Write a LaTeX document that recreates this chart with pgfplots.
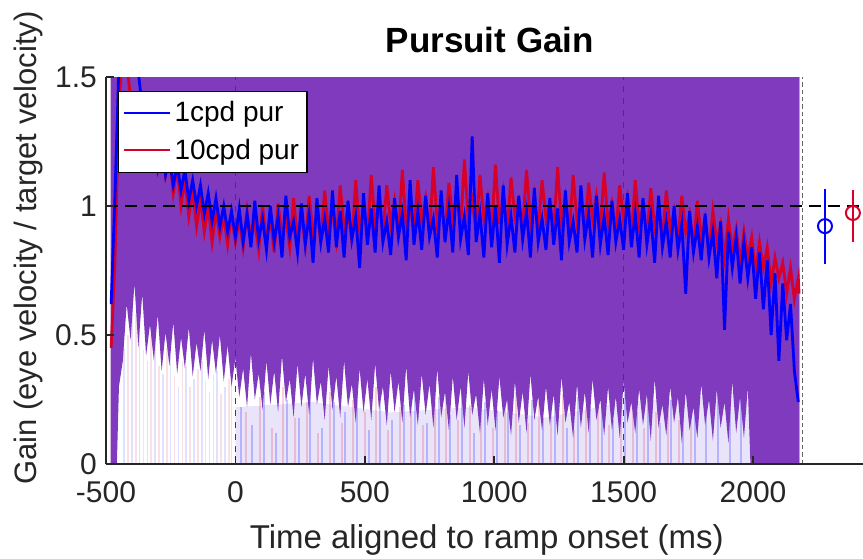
\documentclass[border=0pt]{standalone}
\usepackage{fontspec}
\setmainfont{Liberation Sans}
\usepackage{pgfplots}
\pgfplotsset{compat=1.18}
\definecolor{mpurple}{RGB}{128,58,190}
\definecolor{mblue}{RGB}{0,0,255}
\definecolor{mred}{RGB}{215,0,40}
\definecolor{axgray}{RGB}{38,38,38}
\begin{document}
\begin{tikzpicture}
\begin{axis}[
  at={(0,0)}, anchor=south west,
  scale only axis, width=378.5pt, height=193.5pt,
  xmin=-500, xmax=2425, ymin=0, ymax=1.5,
  axis lines=left,
  axis line style={-, line width=0.9pt, color=axgray},
  tick align=inside, major tick length=4pt,
  tick style={line width=0.9pt, color=axgray},
  xtick={-500,0,500,1000,1500,2000},
  xticklabels={-500,0,500,1000,1500,2000},
  ytick={0,0.5,1,1.5},
  yticklabels={0,0.5,1,1.5},
  ticklabel style={font=\fontsize{15}{18}\selectfont, text=axgray},
  xticklabel style={yshift=-5pt},
  yticklabel style={xshift=-1pt},
  axis on top,
  title={Pursuit Gain},
  title style={font=\fontsize{17.5}{20}\selectfont\bfseries, at={(axis description cs:0.507,1)}, anchor=base, yshift=6pt},
  xlabel={Time aligned to ramp onset (ms)},
  xlabel style={font=\fontsize{16.5}{19}\selectfont, text=axgray, at={(axis description cs:0.503,0)}, anchor=base, yshift=-42pt},
  ylabel={Gain (eye velocity / target velocity)},
  ylabel style={font=\fontsize{15.5}{18}\selectfont, text=axgray, at={(axis description cs:-0.103,0.558)}, anchor=center},
  legend style={at={(axis description cs:0.0158,0.964)}, anchor=north west, draw=black, line width=0.6pt, fill=white, font=\fontsize{14}{17}\selectfont, inner xsep=2pt, inner ysep=3pt, row sep=3pt},
  legend cell align=left,
  legend image code/.code={\draw[#1] (0pt,0pt) -- (23pt,0pt);},
]
\addlegendimage{mblue, line width=1pt}
\addlegendentry{1cpd pur}
\addlegendimage{mred, line width=1pt}
\addlegendentry{10cpd pur}

% faint haze and streaks near the bottom
\addplot[forget plot, draw=none, fill=mpurple!60!blue, fill opacity=0.12] coordinates {
(0,0) (0,0.22) (300,0.24) (600,0.20) (900,0.22) (1200,0.18) (1500,0.24) (1800,0.26) (1990,0.30) (1990,0)};
\addplot[forget plot, ycomb, mblue, line width=1pt, opacity=0.22] coordinates {
(20,0.22)(65,0.15)(110,0.28)(155,0.12)(200,0.25)(245,0.18)(290,0.30)(335,0.14)(380,0.24)(425,0.20)
(470,0.27)(515,0.13)(560,0.29)(605,0.17)(650,0.23)(695,0.31)(740,0.16)(785,0.26)(830,0.19)(875,0.28)
(920,0.12)(965,0.24)(1010,0.21)(1055,0.30)(1100,0.15)(1145,0.25)(1190,0.18)(1235,0.29)(1280,0.14)(1325,0.26)
(1370,0.22)(1415,0.30)(1460,0.17)(1505,0.27)(1550,0.20)(1595,0.31)(1640,0.16)(1685,0.25)(1730,0.22)(1775,0.30)
(1820,0.19)(1865,0.27)(1910,0.23)(1955,0.29)};
\addplot[forget plot, ycomb, mred, line width=1pt, opacity=0.18] coordinates {
(40,0.20)(95,0.26)(140,0.14)(185,0.30)(230,0.18)(275,0.24)(320,0.12)(365,0.28)(410,0.16)(455,0.25)
(500,0.20)(545,0.30)(590,0.13)(635,0.22)(680,0.27)(725,0.15)(770,0.24)(815,0.29)(860,0.17)(905,0.23)
(950,0.26)(995,0.14)(1040,0.22)(1085,0.28)(1130,0.16)(1175,0.24)(1220,0.20)(1265,0.27)(1310,0.13)(1355,0.22)
(1400,0.25)(1445,0.15)(1490,0.21)(1535,0.26)(1580,0.14)(1625,0.20)(1670,0.24)(1715,0.17)(1760,0.22)};
\addplot[forget plot, ycomb, mblue, line width=0.8pt, opacity=0.12] coordinates {
(-430,0.45)(-400,0.60)(-370,0.52)(-340,0.40)(-310,0.48)(-280,0.35)(-250,0.42)(-220,0.30)(-190,0.38)
(-160,0.33)(-130,0.40)(-100,0.28)(-70,0.36)(-40,0.30)(-15,0.34)};
\addplot[forget plot, ycomb, mred, line width=0.8pt, opacity=0.12] coordinates {
(-415,0.50)(-385,0.58)(-355,0.44)(-325,0.50)(-295,0.38)(-265,0.45)(-235,0.34)(-205,0.40)(-175,0.30)
(-145,0.37)(-115,0.32)(-85,0.35)(-55,0.27)(-25,0.33)};

% solid purple band
\addplot[forget plot, draw=none, fill=mpurple] coordinates {
(-482,0) (-482,1.5) (2178,1.5) (2178,0) (1990,0)
(1980,0.30) (1965,0.10) (1950,0.26) (1935,0.12) (1920,0.32) (1905,0.08) (1890,0.24) (1875,0.14)
(1860,0.29) (1845,0.09) (1830,0.25) (1815,0.15) (1800,0.31) (1785,0.10) (1770,0.22) (1755,0.13)
(1740,0.28) (1725,0.08) (1710,0.26) (1695,0.16) (1680,0.30) (1665,0.11) (1650,0.23) (1635,0.14)
(1620,0.33) (1605,0.09) (1590,0.27) (1575,0.15) (1560,0.29) (1545,0.12) (1530,0.24) (1515,0.16)
(1500,0.32) (1485,0.10) (1470,0.26) (1455,0.13) (1440,0.30) (1425,0.11) (1410,0.25) (1395,0.17)
(1380,0.33) (1365,0.12) (1350,0.28) (1335,0.14) (1320,0.31) (1305,0.10) (1290,0.24) (1275,0.16)
(1260,0.34) (1245,0.11) (1230,0.27) (1215,0.15) (1200,0.30) (1185,0.13) (1170,0.26) (1155,0.17)
(1140,0.35) (1125,0.12) (1110,0.28) (1095,0.16) (1080,0.32) (1065,0.11) (1050,0.25) (1035,0.18)
(1020,0.34) (1005,0.13) (990,0.29) (975,0.15) (960,0.33) (945,0.12) (930,0.27) (915,0.19)
(900,0.36) (885,0.14) (870,0.30) (855,0.17) (840,0.34) (825,0.13) (810,0.28) (795,0.18)
(780,0.37) (765,0.14) (750,0.31) (735,0.19) (720,0.35) (705,0.15) (690,0.29) (675,0.18)
(660,0.38) (645,0.16) (630,0.32) (615,0.20) (600,0.36) (585,0.15) (570,0.30) (555,0.21)
(540,0.39) (525,0.17) (510,0.33) (495,0.20) (480,0.37) (465,0.16) (450,0.31) (435,0.22)
(420,0.40) (405,0.18) (390,0.34) (375,0.21) (360,0.38) (345,0.17) (330,0.32) (315,0.23)
(300,0.41) (285,0.19) (270,0.35) (255,0.22) (240,0.39) (225,0.18) (210,0.33) (195,0.24)
(180,0.42) (165,0.20) (150,0.36) (135,0.23) (120,0.40) (105,0.21) (90,0.35) (75,0.25)
(60,0.43) (45,0.22) (30,0.37) (15,0.26) (0,0.41) (-15,0.30) (-30,0.46) (-45,0.32)
(-60,0.50) (-75,0.35) (-90,0.48) (-105,0.33) (-120,0.52) (-135,0.36) (-150,0.47) (-165,0.34)
(-180,0.53) (-195,0.37) (-210,0.49) (-225,0.35) (-240,0.55) (-255,0.38) (-270,0.51) (-285,0.36)
(-300,0.58) (-315,0.40) (-330,0.54) (-345,0.42) (-360,0.66) (-375,0.45) (-390,0.70) (-405,0.48)
(-420,0.62) (-435,0.40) (-450,0.30) (-458,0.0)};

% reference lines
\addplot[forget plot, black!75, dashed, line width=0.5pt] coordinates {(0,0) (0,1.5)};
\addplot[forget plot, black!75, dashed, line width=0.5pt] coordinates {(1500,0) (1500,1.5)};
\addplot[forget plot, red!45, line width=0.6pt] coordinates {(2180,0) (2180,1.5)};
\addplot[forget plot, black!60, line width=0.6pt, dash pattern=on 2.2pt off 1.5pt] coordinates {(2192,0) (2192,1.5)};

% red series
\addplot[forget plot, mred, line width=1.4pt] coordinates {
(-480,0.45) (-465,0.80) (-450,1.40) (-435,1.60) (-420,1.55) (-405,1.42) (-390,1.35) (-375,1.38)
(-360,1.30) (-345,1.34) (-330,1.22) (-315,1.30) (-300,1.18) (-285,1.25) (-270,1.12) (-255,1.20)
(-240,1.05) (-225,1.15) (-210,1.00) (-195,1.10) (-180,0.96) (-165,1.06) (-150,0.92) (-135,1.02)
(-120,0.90) (-105,1.00) (-90,0.86) (-75,0.98) (-60,0.88) (-45,0.96) (-30,0.85) (-15,0.97)
(0,0.86) (15,0.95) (30,0.84) (45,0.98) (60,0.87) (75,0.94) (90,0.83) (105,1.00)
(120,0.86) (135,0.96) (150,0.82) (165,1.01) (180,0.88) (195,0.95) (210,0.84) (225,1.03)
(240,0.87) (255,0.96) (270,0.85) (285,1.04) (300,0.89) (315,0.97) (330,0.86) (345,1.06)
(360,0.90) (375,0.98) (390,0.87) (405,1.08) (420,0.91) (435,0.99) (450,0.86) (465,1.10)
(480,0.90) (495,1.00) (510,0.88) (525,1.12) (540,0.92) (555,1.01) (570,0.89) (585,1.08)
(600,0.93) (615,1.02) (630,0.88) (645,1.14) (660,0.92) (675,1.00) (690,0.90) (705,1.10)
(720,0.94) (735,1.03) (750,0.89) (765,1.15) (780,0.93) (795,1.01) (810,0.90) (825,1.09)
(840,0.95) (855,1.04) (870,0.91) (885,1.18) (900,0.94) (915,1.02) (930,0.90) (945,1.12)
(960,0.95) (975,1.03) (990,0.91) (1005,1.16) (1020,0.93) (1035,1.05) (1050,0.90) (1065,1.11)
(1080,0.96) (1095,1.02) (1110,0.92) (1125,1.14) (1140,0.94) (1155,1.04) (1170,0.90) (1185,1.10)
(1200,0.95) (1215,1.01) (1230,0.91) (1245,1.15) (1260,0.93) (1275,1.03) (1290,0.89) (1305,1.12)
(1320,0.94) (1335,1.02) (1350,0.90) (1365,1.09) (1380,0.95) (1395,1.04) (1410,0.91) (1425,1.13)
(1440,0.93) (1455,1.01) (1470,0.90) (1485,1.08) (1500,0.94) (1515,1.03) (1530,0.89) (1545,1.10)
(1560,0.93) (1575,1.00) (1590,0.88) (1605,1.07) (1620,0.92) (1635,0.99) (1650,0.87) (1665,1.06)
(1680,0.91) (1695,0.98) (1710,0.86) (1725,1.04) (1740,0.90) (1755,0.97) (1770,0.84) (1785,1.02)
(1800,0.88) (1815,0.95) (1830,0.82) (1845,0.98) (1860,0.86) (1875,0.93) (1890,0.80) (1905,0.95)
(1920,0.83) (1935,0.91) (1950,0.78) (1965,0.90) (1980,0.80) (1995,0.88) (2010,0.74) (2025,0.86)
(2040,0.76) (2055,0.84) (2070,0.70) (2085,0.80) (2100,0.72) (2115,0.78) (2130,0.66) (2145,0.76)
(2160,0.64) (2175,0.72) (2178,0.66)};

% blue series
\addplot[forget plot, mblue, line width=1.4pt] coordinates {
(-480,0.62) (-465,1.05) (-450,1.55) (-435,1.62) (-420,1.58) (-405,1.65) (-390,1.56) (-375,1.52)
(-360,1.38) (-345,1.30) (-330,1.22) (-315,1.28) (-300,1.15) (-285,1.24) (-270,1.12) (-255,1.18)
(-240,1.08) (-225,1.16) (-210,1.06) (-195,1.14) (-180,1.02) (-165,1.10) (-150,1.00) (-135,1.08)
(-120,0.97) (-105,1.05) (-90,0.94) (-75,1.03) (-60,0.92) (-45,1.00) (-30,0.90) (-15,0.98)
(0,0.88) (15,0.99) (30,0.86) (45,0.97) (60,0.84) (75,1.02) (90,0.87) (105,0.95)
(120,0.83) (135,1.00) (150,0.86) (165,0.96) (180,0.80) (195,1.04) (210,0.88) (225,0.94)
(240,0.82) (255,1.01) (270,0.85) (285,0.97) (300,0.78) (315,1.03) (330,0.86) (345,0.95)
(360,0.82) (375,1.06) (390,0.84) (405,0.98) (420,0.80) (435,1.02) (450,0.87) (465,0.96)
(480,0.76) (495,1.05) (510,0.85) (525,0.99) (540,0.82) (555,1.08) (570,0.86) (585,0.94)
(600,0.81) (615,1.03) (630,0.88) (645,0.97) (660,0.79) (675,1.10) (690,0.85) (705,0.98)
(720,0.83) (735,1.04) (750,0.88) (765,0.95) (780,0.80) (795,1.06) (810,0.86) (825,0.99)
(840,0.82) (855,1.12) (870,0.87) (885,0.96) (900,0.81) (915,1.27) (930,0.86) (945,0.97)
(960,0.80) (975,1.05) (990,0.84) (1005,1.00) (1020,0.78) (1035,1.08) (1050,0.85) (1065,0.96)
(1080,0.82) (1095,1.04) (1110,0.87) (1125,0.98) (1140,0.80) (1155,1.07) (1170,0.86) (1185,0.95)
(1200,0.83) (1215,1.03) (1230,0.85) (1245,0.99) (1260,0.79) (1275,1.06) (1290,0.86) (1305,0.94)
(1320,0.82) (1335,1.08) (1350,0.87) (1365,0.97) (1380,0.80) (1395,1.04) (1410,0.85) (1425,0.96)
(1440,0.81) (1455,1.02) (1470,0.86) (1485,0.95) (1500,0.83) (1515,1.05) (1530,0.84) (1545,0.97)
(1560,0.80) (1575,1.03) (1590,0.85) (1605,0.96) (1620,0.78) (1635,1.04) (1650,0.84) (1665,0.94)
(1680,0.80) (1695,1.00) (1710,0.83) (1725,0.93) (1740,0.66) (1755,0.98) (1770,0.82) (1785,0.92)
(1800,0.79) (1815,0.97) (1830,0.80) (1845,0.90) (1860,0.72) (1875,0.94) (1890,0.52) (1905,0.90)
(1920,0.76) (1935,0.88) (1950,0.70) (1965,0.86) (1980,0.72) (1995,0.84) (2010,0.64) (2025,0.82)
(2040,0.60) (2055,0.79) (2070,0.50) (2085,0.74) (2100,0.40) (2115,0.70) (2130,0.48) (2145,0.62)
(2160,0.36) (2175,0.24)};

% unity line
\addplot[forget plot, black, line width=1.1pt, dash pattern=on 6pt off 3.5pt] coordinates {(-500,1) (2425,1)};

% summary error bars
\addplot[forget plot, mblue, line width=1pt, only marks, mark=o, mark size=3.5pt,
  error bars/.cd, y dir=both, y explicit, error mark=none,
  error bar style={line width=1.1pt, mblue}]
  coordinates {(2278,0.922) += (0,0.144) -= (0,0.147)};
\addplot[forget plot, mred, line width=1pt, only marks, mark=o, mark size=3.5pt,
  error bars/.cd, y dir=both, y explicit, error mark=none,
  error bar style={line width=1.1pt, mred}]
  coordinates {(2386,0.973) += (0,0.089) -= (0,0.113)};
\end{axis}
\pgfresetboundingbox
\useasboundingbox (-53pt,-47pt) rectangle (378.5pt,232pt);
\end{tikzpicture}
\end{document}
